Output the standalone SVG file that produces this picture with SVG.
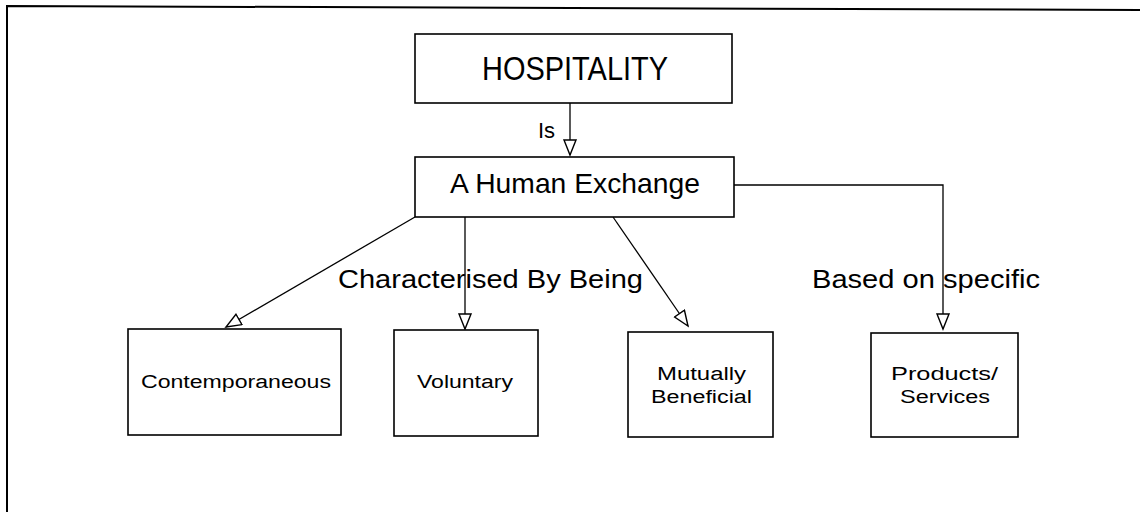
<svg xmlns="http://www.w3.org/2000/svg" width="1140" height="512" viewBox="0 0 1140 512">
<style>
.box{fill:#fff;stroke:#000;stroke-width:1.6}
.t{font-family:"Liberation Sans",Arial,sans-serif;fill:#000}
.c{fill:none;stroke:#000;stroke-width:1.3}
</style>
<defs>
<marker id="arr" markerUnits="userSpaceOnUse" markerWidth="20" markerHeight="16" refX="16" refY="7" orient="auto">
<path d="M1,1 L16,7 L1,13 Z" fill="#fff" stroke="#000" stroke-width="1.4"/>
</marker>
</defs>
<rect width="1140" height="512" fill="#fff"/>
<path d="M7,512 L7,6 L1140,10" fill="none" stroke="#000" stroke-width="2"/>
<g id="connectors">
<line class="c" x1="570" y1="103" x2="570" y2="155" marker-end="url(#arr)"/>
<line class="c" x1="415" y1="217" x2="226" y2="327" marker-end="url(#arr)"/>
<line class="c" x1="465" y1="217" x2="465" y2="329" marker-end="url(#arr)"/>
<line class="c" x1="613" y1="217" x2="688" y2="326" marker-end="url(#arr)"/>
<polyline class="c" points="734,185 943,185 943,329" marker-end="url(#arr)"/>
<text class="t" x="538" y="138" font-size="22">Is</text>
<text class="t" x="338" y="288" font-size="25" textLength="305" lengthAdjust="spacingAndGlyphs">Characterised By Being</text>
<text class="t" x="812" y="288" font-size="25" textLength="228" lengthAdjust="spacingAndGlyphs">Based on specific</text>
</g>
<g id="hospitality">
<rect class="box" x="415" y="34" width="317" height="69"/>
<text class="t" x="482" y="80" font-size="34" textLength="186" lengthAdjust="spacingAndGlyphs">HOSPITALITY</text>
</g>
<g id="human-exchange">
<rect class="box" x="415" y="157" width="319" height="60"/>
<text class="t" x="450" y="193" font-size="28" textLength="250" lengthAdjust="spacingAndGlyphs">A Human Exchange</text>
</g>
<g id="contemporaneous">
<rect class="box" x="128" y="329" width="213" height="106"/>
<text class="t" x="141" y="388" font-size="18" textLength="190" lengthAdjust="spacingAndGlyphs">Contemporaneous</text>
</g>
<g id="voluntary">
<rect class="box" x="394" y="330" width="144" height="106"/>
<text class="t" x="417" y="388" font-size="18" textLength="96" lengthAdjust="spacingAndGlyphs">Voluntary</text>
</g>
<g id="mutually-beneficial">
<rect class="box" x="628" y="332" width="145" height="105"/>
<text class="t" x="657" y="380" font-size="18" textLength="89" lengthAdjust="spacingAndGlyphs">Mutually</text>
<text class="t" x="651" y="403" font-size="18" textLength="101" lengthAdjust="spacingAndGlyphs">Beneficial</text>
</g>
<g id="products-services">
<rect class="box" x="871" y="333" width="147" height="104"/>
<text class="t" x="891" y="380" font-size="18" textLength="107" lengthAdjust="spacingAndGlyphs">Products/</text>
<text class="t" x="900" y="403" font-size="18" textLength="90" lengthAdjust="spacingAndGlyphs">Services</text>
</g>
</svg>
